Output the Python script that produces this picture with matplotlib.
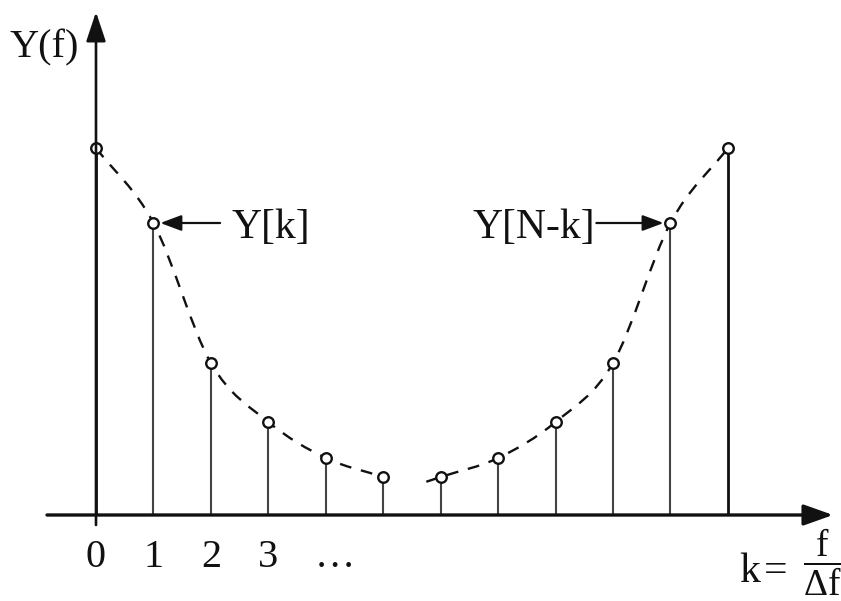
import numpy as np
import matplotlib
matplotlib.use("Agg")
import matplotlib.pyplot as plt
from matplotlib.path import Path
from matplotlib.patches import PathPatch

# Spectrum samples Y[k] for k = 0 .. N-1 (N = 12), symmetric about N/2
k_idx = np.arange(12)
Y_vals = [367, 292, 152, 93, 57, 38, 38, 57, 93, 152, 292, 367]
tick_labels = ["0", "1", "2", "3", "\u2026"]
tick_pos = [0, 1, 2, 3, 4.16]

plt.rcParams["font.family"] = ["Liberation Serif", "DejaVu Serif"]
plt.rcParams["mathtext.fontset"] = "custom"
plt.rcParams["mathtext.rm"] = "Liberation Serif"
plt.rcParams["mathtext.it"] = "Liberation Serif"

fig = plt.figure(figsize=(8.41, 6.01), dpi=100)
ax = fig.add_axes([0, 0, 1, 1])
ax.set_xlim(-1.671, 12.968)
ax.set_ylim(-86, 515)
ax.axis("off")

ink = "#111111"
stem_c = "#444444"


def catmull_rom_path(xs, ys, lead=0.0):
    """Smooth curve through the given points as cubic Bezier segments."""
    pts = np.column_stack([xs, ys]).astype(float)
    n = len(pts)
    tang = np.zeros_like(pts)
    for i in range(n):
        if i == 0:
            tang[i] = pts[1] - pts[0]
        elif i == n - 1:
            tang[i] = pts[-1] - pts[-2]
        else:
            tang[i] = (pts[i + 1] - pts[i - 1]) / 2.0
    verts = []
    codes = []
    start = pts[0] - lead * tang[0]
    verts.append(start)
    codes.append(Path.MOVETO)
    if lead > 0:
        verts.append(pts[0])
        codes.append(Path.LINETO)
    for i in range(n - 1):
        verts += [pts[i] + tang[i] / 3.0, pts[i + 1] - tang[i + 1] / 3.0, pts[i + 1]]
        codes += [Path.CURVE4] * 3
    return Path(verts, codes)


# dashed envelope: two branches
left = catmull_rom_path(k_idx[:6], Y_vals[:6])
right = catmull_rom_path(k_idx[6:], Y_vals[6:], lead=0.25)
for p in (left, right):
    ax.add_patch(PathPatch(p, fill=False, edgecolor=ink, lw=1.7,
                           linestyle=(0, (5, 4.2)), zorder=2))

# stems
for k, v in zip(k_idx, Y_vals):
    bold = k in (0, len(k_idx) - 1)
    ax.plot([k, k], [0, v - 5], color=ink if bold else stem_c,
            lw=2.0 if bold else 1.5, solid_capstyle="butt", zorder=3)

# sample markers
ax.plot(k_idx, Y_vals, "o", ms=7.6, mfc="white", mec=ink, mew=1.7, zorder=4)

# axes with arrowheads
ax.annotate("", xy=(12.83, 0), xytext=(-0.853, 0),
            arrowprops=dict(arrowstyle="-|>,head_length=0.9,head_width=0.32",
                            lw=2.4, color=ink, shrinkA=0, shrinkB=0,
                            mutation_scale=20), zorder=5)
ax.annotate("", xy=(0, 503), xytext=(0, -10),
            arrowprops=dict(arrowstyle="-|>,head_length=0.9,head_width=0.3",
                            lw=1.9, color=ink, shrinkA=0, shrinkB=0,
                            mutation_scale=20), zorder=5)

# tick labels
for pos, lab in zip(tick_pos, tick_labels):
    ax.text(pos, -52, lab, ha="center", va="baseline", fontsize=29, color=ink)

# axis labels
ax.text(-1.50, 458, "Y(f)", ha="left", va="baseline", fontsize=29, color=ink)

# k = f / Δf
ax.text(11.19, -67, "k", ha="left", va="baseline", fontsize=30, color=ink)
ax.text(11.63, -67, "=", ha="left", va="baseline", fontsize=30, color=ink)
ax.text(12.98, -47, r"$\mathrm{\dfrac{f}{\Delta f}}$", ha="right",
        va="center", fontsize=27, color=ink)

# callouts for Y[k] and Y[N-k]
ax.annotate("", xy=(1.12, Y_vals[1]), xytext=(2.16, Y_vals[1]),
            arrowprops=dict(arrowstyle="-|>,head_length=0.8,head_width=0.3",
                            lw=1.6, color=ink, shrinkA=0, shrinkB=0,
                            mutation_scale=16))
ax.text(2.35, Y_vals[1], "Y[k]", ha="left", va="center_baseline",
        fontsize=30, color=ink)
ax.annotate("", xy=(9.88, Y_vals[10]), xytext=(8.71, Y_vals[10]),
            arrowprops=dict(arrowstyle="-|>,head_length=0.8,head_width=0.3",
                            lw=1.6, color=ink, shrinkA=0, shrinkB=0,
                            mutation_scale=16))
ax.text(8.69, Y_vals[10], "Y[N-k]", ha="right", va="center_baseline",
        fontsize=30, color=ink)

fig.savefig("out.png", dpi=100, facecolor="white")
